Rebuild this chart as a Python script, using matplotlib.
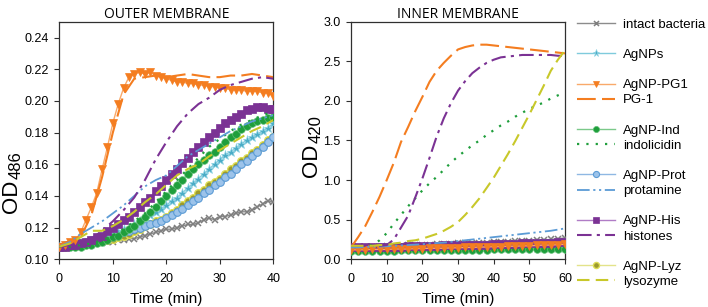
import numpy as np
import matplotlib
matplotlib.use("Agg")
import matplotlib.pyplot as plt
from matplotlib.lines import Line2D

plt.rcParams['font.family'] = ['Liberation Sans', 'DejaVu Sans']

# ---------------- data: OUTER MEMBRANE (OD486) ----------------
t_outer = np.arange(0, 41, 1)
t_outer2 = np.arange(0, 41, 2)

outer_intact = [.108, .108, .108, .108, .109, .109, .109, .110, .110, .111, .111, .112, .112, .113, .113, .114,
                .115, .116, .117, .118, .119, .119, .120, .121, .122, .122, .123, .125, .126, .125, .127, .127,
                .128, .129, .130, .130, .131, .133, .135, .137, .136]
outer_agnps = [.108, .108, .109, .109, .110, .110, .111, .112, .113, .114, .116, .117, .119, .120, .122, .124,
               .126, .128, .130, .132, .134, .137, .139, .142, .145, .148, .151, .154, .157, .160, .163, .166,
               .168, .170, .173, .175, .177, .179, .181, .183, .186]
outer_pg1 = [.108, .109, .111, .112, .117, .125, .133, .142, .157, .171, .186, .198, .208, .215, .217, .218,
             .217, .218, .216, .215, .214, .213, .212, .212, .211, .211, .210, .210, .209, .209, .208, .208,
             .207, .207, .207, .206, .206, .206, .205, .205, .203]
outer_ind = [.108, .108, .108, .108, .108, .109, .109, .110, .111, .112, .114, .115, .117, .119, .121, .124,
             .127, .130, .133, .137, .140, .144, .147, .150, .154, .157, .160, .163, .166, .168, .171, .174,
             .177, .179, .182, .184, .186, .187, .188, .189, .190]
outer_prot = [.108, .109, .109, .110, .110, .111, .112, .112, .113, .114, .115, .116, .117, .118, .119, .120,
              .121, .122, .123, .124, .126, .128, .130, .132, .134, .137, .139, .142, .144, .147, .149, .152,
              .154, .157, .160, .162, .165, .168, .171, .174, .177]
outer_his = [.108, .108, .109, .109, .110, .111, .112, .114, .115, .118, .120, .122, .125, .127, .130, .133,
             .136, .139, .143, .146, .150, .154, .157, .161, .164, .168, .171, .174, .177, .180, .183, .186,
             .188, .190, .192, .194, .195, .196, .196, .195, .195]
outer_lyz = [.108, .108, .109, .109, .110, .110, .111, .111, .112, .112, .113, .114, .115, .116, .118, .119,
             .121, .122, .124, .125, .127, .129, .131, .134, .137, .139, .142, .144, .147, .149, .151, .154,
             .157, .159, .162, .164, .167, .169, .172, .175, .177]
# free peptides (2-min points)
outer_pg1_free = [.108, .110, .114, .128, .152, .180, .204, .214, .215, .216, .215, .216, .217, .216, .215,
                  .215, .216, .216, .217, .216, .215]
outer_ind_free = [.108, .108, .109, .110, .112, .115, .119, .124, .129, .136, .143, .150, .157, .164, .171,
                  .176, .181, .185, .188, .191, .193]
outer_prot_free = [.108, .111, .116, .120, .124, .129, .134, .140, .146, .150, .153, .159, .165, .169, .173,
                   .177, .181, .184, .187, .189, .191]
outer_his_free = [.108, .109, .110, .113, .118, .124, .131, .139, .150, .163, .174, .184, .192, .198, .202,
                  .207, .210, .212, .214, .215, .214]
outer_lyz_free = [.108, .110, .114, .118, .118, .121, .125, .130, .136, .141, .147, .153, .157, .160, .165,
                  .169, .173, .177, .181, .184, .188]

# ---------------- data: INNER MEMBRANE (OD420) ----------------
t_inner = np.arange(0, 61, 2)
inner_intact = [.15, .15, .155, .16, .16, .165, .17, .17, .175, .18, .18, .185, .19, .19, .195, .20, .20, .205,
                .21, .21, .215, .22, .22, .225, .23, .235, .24, .245, .25, .26, .27]
inner_agnps = [.13, .13, .13, .135, .135, .135, .14, .14, .14, .14, .145, .145, .145, .15, .15, .15, .15, .155,
               .155, .155, .16, .16, .16, .16, .165, .165, .165, .17, .17, .17, .17]
inner_pg1 = [.12, .12, .12, .125, .125, .125, .13, .13, .13, .135, .135, .14, .14, .14, .145, .145, .15, .15,
             .155, .155, .16, .16, .165, .165, .17, .17, .175, .18, .18, .185, .19]
inner_ind = [.11, .11, .11, .11, .11, .11, .11, .115, .115, .115, .115, .115, .115, .12, .12, .12, .12, .12,
             .12, .12, .125, .125, .125, .125, .125, .125, .13, .13, .13, .13, .13]
inner_prot = [.14, .14, .145, .145, .15, .15, .15, .155, .155, .16, .16, .16, .165, .165, .17, .17, .17, .175,
              .175, .18, .18, .185, .185, .19, .19, .195, .195, .20, .20, .205, .21]
inner_his = [.15, .15, .155, .155, .155, .16, .16, .16, .165, .165, .165, .17, .17, .175, .175, .175, .18, .18,
             .185, .185, .19, .19, .195, .195, .20, .20, .205, .205, .21, .215, .22]
inner_lyz = [.13, .13, .13, .135, .135, .135, .14, .14, .14, .145, .145, .145, .15, .15, .15, .155, .155, .155,
             .16, .16, .16, .165, .165, .165, .17, .17, .17, .175, .175, .18, .18]
inner_pg1_free = [.15, .28, .42, .60, .79, 1.00, 1.22, 1.48, 1.67, 1.87, 2.05, 2.24, 2.38, 2.48, 2.57, 2.65,
                  2.68, 2.70, 2.71, 2.71, 2.70, 2.69, 2.68, 2.67, 2.66, 2.65, 2.64, 2.63, 2.62, 2.61, 2.60]
inner_ind_free = [.16, .16, .17, .18, .24, .33, .45, .56, .67, .77, .87, .96, 1.04, 1.13, 1.22, 1.30, 1.37,
                  1.44, 1.50, 1.57, 1.63, 1.69, 1.74, 1.80, 1.85, 1.90, 1.94, 1.98, 2.03, 2.07, 2.11]
inner_prot_free = [.15, .15, .155, .16, .16, .165, .17, .175, .18, .185, .19, .20, .205, .21, .22, .23, .24,
                   .25, .26, .27, .28, .29, .30, .31, .32, .33, .34, .35, .36, .375, .39]
inner_his_free = [.17, .17, .17, .17, .17, .18, .25, .40, .55, .78, 1.02, 1.28, 1.55, 1.78, 1.97, 2.13, 2.25,
                  2.35, 2.42, 2.48, 2.52, 2.55, 2.56, 2.57, 2.58, 2.58, 2.58, 2.58, 2.58, 2.57, 2.57]
inner_lyz_free = [.17, .17, .17, .17, .18, .18, .20, .21, .23, .24, .26, .29, .32, .36, .41, .47, .56, .66,
                  .77, .90, 1.03, 1.18, 1.33, 1.49, 1.66, 1.83, 2.01, 2.19, 2.38, 2.52, 2.64]

labels_np = ['intact bacteria', 'AgNPs', 'AgNP-PG1', 'AgNP-Ind', 'AgNP-Prot', 'AgNP-His', 'AgNP-Lyz']
labels_free = ['PG-1', 'indolicidin', 'protamine', 'histones', 'lysozyme']

# ---------------- styles ----------------
GRAY = '#7f7f7f'
CYAN = '#4bacc6'
ORANGE = '#f47d20'
GREEN = '#1f9e3c'
BLUE = '#5b9bd5'
PURPLE = '#7b3294'
OLIVE = '#9c9a2e'
YELLOW = '#c8c82a'

np_styles = [
    dict(color='#8c8c8c', marker='x', ms=4.5, mew=1.1, mfc=GRAY, mec=GRAY, lw=1.0),
    dict(color='#7fcbdc', marker='*', ms=6.5, mew=0.5, mfc=CYAN, mec='#8fd3e3', lw=1.0),
    dict(color='#f9a96a', marker='v', ms=6.0, mew=0.5, mfc=ORANGE, mec=ORANGE, lw=1.0),
    dict(color='#7bc98a', marker='o', ms=5.5, mew=0.5, mfc=GREEN, mec='#5fbf73', lw=1.0),
    dict(color='#8fb8e3', marker='o', ms=5.5, mew=0.8, mfc='#9cc3ea', mec=BLUE, lw=1.0),
    dict(color='#b07cc6', marker='s', ms=5.5, mew=0.5, mfc=PURPLE, mec=PURPLE, lw=1.0),
    dict(color='#e3e38a', marker='o', ms=5.5, mew=1.0, mfc=OLIVE, mec='#dede55', lw=1.0),
]
free_styles = [
    dict(color=ORANGE, lw=1.5, dashes=(9, 3)),
    dict(color=GREEN, lw=1.6, dashes=(1, 3.2)),
    dict(color=BLUE, lw=1.3, dashes=(7, 2, 1.2, 2, 1.2, 2)),
    dict(color=PURPLE, lw=1.5, dashes=(7, 2.5, 1.5, 2.5)),
    dict(color=YELLOW, lw=1.5, dashes=(6, 3)),
]

fig = plt.figure(figsize=(7.08, 3.07), dpi=100)
axL = fig.add_axes([0.0838, 0.1554, 0.3023, 0.7739])
axR = fig.add_axes([0.4958, 0.1554, 0.3023, 0.7739])

outer_np = [outer_intact, outer_agnps, outer_pg1, outer_ind, outer_prot, outer_his, outer_lyz]
outer_free = [outer_pg1_free, outer_ind_free, outer_prot_free, outer_his_free, outer_lyz_free]
inner_np = [inner_intact, inner_agnps, inner_pg1, inner_ind, inner_prot, inner_his, inner_lyz]
inner_free = [inner_pg1_free, inner_ind_free, inner_prot_free, inner_his_free, inner_lyz_free]

order = [0, 6, 4, 1, 3, 5, 2]
for i in order:
    axL.plot(t_outer, outer_np[i], zorder=3, **np_styles[i])
for i in order:
    axR.plot(t_inner, inner_np[i], zorder=3, **np_styles[i])
for j in range(5):
    axL.plot(t_outer2, outer_free[j], zorder=4, **free_styles[j])
    axR.plot(t_inner, inner_free[j], zorder=4, **free_styles[j])

np_handles = [Line2D([], [], **{**np_styles[i], 'ms': np_styles[i]['ms'] * 0.8}) for i in range(7)]
free_handles = [Line2D([], [], **free_styles[j]) for j in range(5)]

for ax in (axL, axR):
    for s in ax.spines.values():
        s.set_color('#303030')
        s.set_linewidth(0.9)
    ax.tick_params(direction='out', length=3.5, width=0.8, color='#303030', labelsize=9, pad=4)
    ax.tick_params(axis='x', pad=6.5)
    ax.set_xlabel('Time (min)', fontsize=11, labelpad=5)


def od_label(ax, sub, x, y):
    ax.annotate('OD', xy=(x, y), xycoords='axes fraction', rotation=90, rotation_mode='anchor',
                ha='left', va='baseline', fontsize=16)
    ax.annotate(sub, xy=(x, y), xycoords='axes fraction', xytext=(2.5, 24.3), textcoords='offset points',
                rotation=90, rotation_mode='anchor', ha='left', va='baseline', fontsize=12)


axL.set_xlim(0, 40)
axL.set_ylim(0.10, 0.25)
axL.set_xticks([0, 10, 20, 30, 40])
axL.set_yticks(np.arange(0.10, 0.241, 0.02))
axL.set_yticklabels(['%.2f' % v for v in np.arange(0.10, 0.241, 0.02)])
od_label(axL, '486', -0.198, 0.195)
axL.set_title('OUTER MEMBRANE', fontsize=10, family='Open Sans', pad=3)

axR.set_xlim(0, 60)
axR.set_ylim(0, 3.0)
axR.set_xticks([0, 10, 20, 30, 40, 50, 60])
axR.set_yticks(np.arange(0, 3.01, 0.5))
axR.set_yticklabels(['%.1f' % v for v in np.arange(0, 3.01, 0.5)])
od_label(axR, '420', -0.159, 0.348)
axR.set_title('INNER MEMBRANE', fontsize=10, family='Open Sans', pad=3)

blank = Line2D([], [], linestyle='none')
leg_handles = [np_handles[0], blank, np_handles[1], blank,
               np_handles[2], free_handles[0], blank,
               np_handles[3], free_handles[1], blank,
               np_handles[4], free_handles[2], blank,
               np_handles[5], free_handles[3], blank,
               np_handles[6], free_handles[4]]
leg_labels = [labels_np[0], ' ', labels_np[1], ' ',
              labels_np[2], labels_free[0], ' ',
              labels_np[3], labels_free[1], ' ',
              labels_np[4], labels_free[2], ' ',
              labels_np[5], labels_free[3], ' ',
              labels_np[6], labels_free[4]]
fig.legend(leg_handles, leg_labels, loc='upper left', bbox_to_anchor=(0.815, 0.94),
           frameon=False, fontsize=9.5, handlelength=2.9, handletextpad=0.6,
           labelspacing=0.22, borderpad=0, borderaxespad=0, numpoints=1)

fig.savefig('out.png', dpi=100)
